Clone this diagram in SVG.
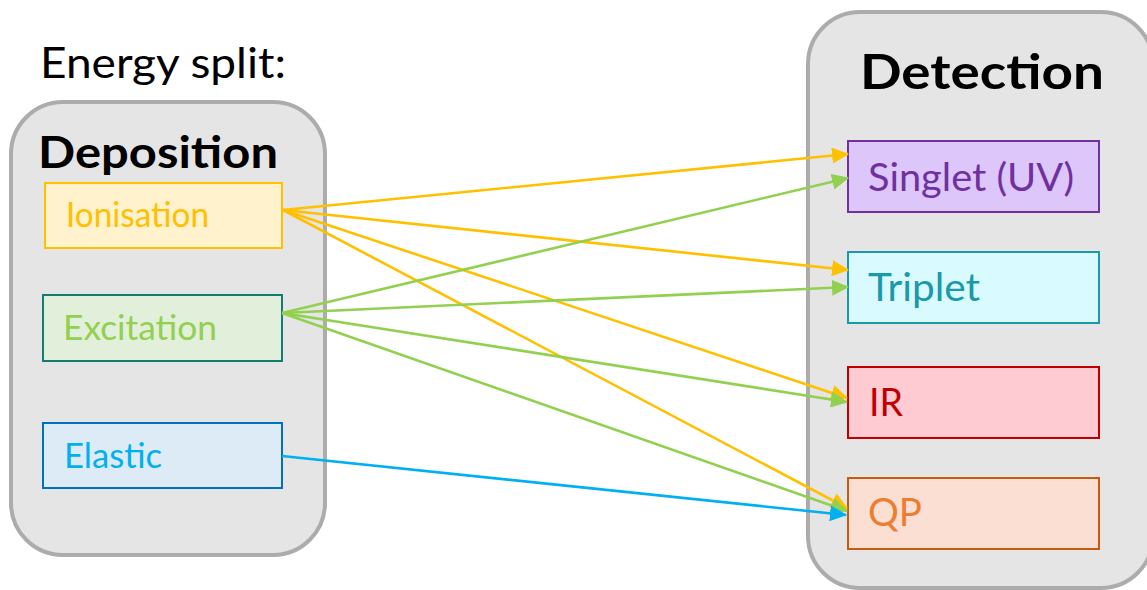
<svg xmlns="http://www.w3.org/2000/svg" width="1147" height="590" viewBox="0 0 1147 590">
  <style>
    text { font-family: Lato, "Open Sans", "Liberation Sans", sans-serif; }
    .panel { fill: #e5e5e5; stroke: #aeabab; stroke-width: 4; }
    .title { font-weight: bold; fill: #000; }
    .box { stroke-width: 2; }
    .src { font-size: 34px; }
    .dst { font-size: 38px; }
    .c { fill: none; stroke-width: 2.6; }
  </style>
  <defs>
    <marker id="ah-y" viewBox="0 0 17 16" refX="16" refY="8" markerWidth="17" markerHeight="16" markerUnits="userSpaceOnUse" orient="auto">
      <path d="M0,0 L17,8 L0,16 Z" fill="#ffc000"/>
    </marker>
    <marker id="ah-g" viewBox="0 0 17 16" refX="16" refY="8" markerWidth="17" markerHeight="16" markerUnits="userSpaceOnUse" orient="auto">
      <path d="M0,0 L17,8 L0,16 Z" fill="#92d050"/>
    </marker>
    <marker id="ah-b" viewBox="0 0 17 16" refX="16" refY="8" markerWidth="17" markerHeight="16" markerUnits="userSpaceOnUse" orient="auto">
      <path d="M0,0 L17,8 L0,16 Z" fill="#00b0f0"/>
    </marker>
  </defs>

  <rect width="1147" height="590" fill="#ffffff"/>

  <text x="40" y="78" font-size="42" fill="#000" textLength="246" lengthAdjust="spacingAndGlyphs">Energy split:</text>

  <!-- Deposition panel -->
  <g id="deposition">
    <rect class="panel" x="11" y="102" width="314" height="453" rx="52"/>
    <text class="title" x="38" y="168" font-size="44" textLength="240" lengthAdjust="spacingAndGlyphs">Deposition</text>
  </g>

  <!-- Detection panel -->
  <g id="detection">
    <rect class="panel" x="808" y="12" width="345" height="576" rx="52"/>
    <text class="title" x="860" y="89" font-size="48" textLength="244" lengthAdjust="spacingAndGlyphs">Detection</text>
  </g>

  <g id="ionisation">
    <rect class="box" x="45" y="183" width="237" height="65" fill="#fff2cc" stroke="#ffc000"/>
    <text class="src" x="66" y="227" fill="#ffc000" font-size="33" textLength="143" lengthAdjust="spacingAndGlyphs">Ionisation</text>
  </g>
  <g id="excitation">
    <rect class="box" x="43" y="295" width="239" height="66" fill="#e2efda" stroke="#127d70"/>
    <text class="src" x="63" y="340" fill="#92d050" textLength="154" lengthAdjust="spacingAndGlyphs">Excitation</text>
  </g>
  <g id="elastic">
    <rect class="box" x="43" y="423" width="239" height="65" fill="#ddebf7" stroke="#0070c0"/>
    <text class="src" x="64" y="468" fill="#00b0f0" textLength="98" lengthAdjust="spacingAndGlyphs">Elastic</text>
  </g>

  <g id="singlet">
    <rect class="box" x="848" y="141" width="251" height="71" fill="#dcc6fa" stroke="#7030a0"/>
    <text class="dst" x="868" y="191" fill="#7030a0" textLength="206" lengthAdjust="spacingAndGlyphs">Singlet (UV)</text>
  </g>
  <g id="triplet">
    <rect class="box" x="848" y="252" width="251" height="71" fill="#d9fafe" stroke="#1b98aa"/>
    <text class="dst" x="868" y="301" fill="#1b98aa" textLength="112" lengthAdjust="spacingAndGlyphs">Triplet</text>
  </g>
  <g id="ir">
    <rect class="box" x="848" y="367" width="251" height="71" fill="#fdcbd1" stroke="#c00000"/>
    <text class="dst" x="869" y="416" fill="#c00000" textLength="34" lengthAdjust="spacingAndGlyphs">IR</text>
  </g>
  <g id="qp">
    <rect class="box" x="848" y="478" width="251" height="71" fill="#fbdfd2" stroke="#c55a11"/>
    <text class="dst" x="868" y="526" fill="#ed7d31" textLength="54" lengthAdjust="spacingAndGlyphs">QP</text>
  </g>

  <!-- connectors -->
  <g id="connectors">
    <line class="c" x1="283" y1="210" x2="848" y2="154" stroke="#ffc000" marker-end="url(#ah-y)"/>
    <line class="c" x1="283" y1="210" x2="848" y2="270" stroke="#ffc000" marker-end="url(#ah-y)"/>
    <line class="c" x1="283" y1="210" x2="847" y2="398" stroke="#ffc000" marker-end="url(#ah-y)"/>
    <line class="c" x1="283" y1="210" x2="847" y2="508" stroke="#ffc000" marker-end="url(#ah-y)"/>
    <line class="c" x1="282" y1="313" x2="848" y2="178" stroke="#92d050" marker-end="url(#ah-g)"/>
    <line class="c" x1="282" y1="313" x2="848" y2="287" stroke="#92d050" marker-end="url(#ah-g)"/>
    <line class="c" x1="282" y1="313" x2="847" y2="402" stroke="#92d050" marker-end="url(#ah-g)"/>
    <line class="c" x1="282" y1="313" x2="847" y2="511" stroke="#92d050" marker-end="url(#ah-g)"/>
    <line class="c" x1="282" y1="456" x2="846" y2="515" stroke="#00b0f0" marker-end="url(#ah-b)"/>
  </g>
</svg>
